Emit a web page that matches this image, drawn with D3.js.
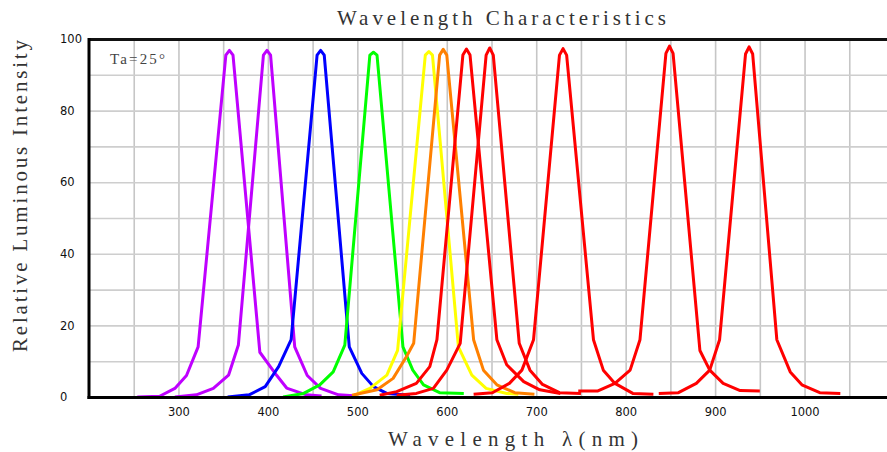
<!DOCTYPE html>
<html>
<head>
<meta charset="utf-8">
<script src="https://cdn.jsdelivr.net/npm/d3@7"></script>
<style>
  body { margin: 0; background: #fff; }
  svg { display: block; }
</style>
</head>
<body>
<svg id="chart" width="887" height="452"></svg>
<script>
// Axis ticks and grid positions
const xTickValues = [300, 400, 500, 600, 700, 800, 900, 1000];
const xGridValues = [250, 300, 350, 400, 450, 500, 550, 600, 650, 700, 750, 800, 850, 900, 950, 1000, 1050, 1100];
const yTickValues = [0, 20, 40, 60, 80, 100];
const yGridValues = [10, 20, 30, 40, 50, 60, 70, 80, 90];

// Spectral curves: [wavelength (nm), relative intensity (%)]
const uv357 = [[254,0],[279,0.2],[296,2.4],[309,6],[322,14],[353,95.5],[357,96.8],[361,95.5],[391,12.5],[410,6],[421,2.5],[443,0.6],[460,0.3]];
const uv399 = [[296,0],[320,0.6],[339,2.4],[356,6.1],[367,14.5],[395,95.5],[399,96.8],[403,95.5],[430,14],[444,6],[459,2.4],[479,0.6],[500,0.3]];
const blue459 = [[355,0],[379,0.6],[397,2.9],[412,8.5],[426,16],[455,95.5],[459,96.8],[463,95.5],[491,14],[505,6.6],[518,2.9],[533,1],[559,0.5]];
const green518 = [[417,0],[440,1],[458,3.4],[473,7],[486,14.5],[514,95.5],[518,96.3],[522,95.5],[551,14],[562,7.5],[574,3.4],[592,1.2],[619,1]];
const yellow580 = [[497,0.5],[514,2.4],[533,6.1],[545,13],[576,95.5],[580,96.5],[584,95.5],[613,14],[628,6.1],[644,2.4],[667,1],[680,0.8]];
const orange596 = [[494,0.5],[522,2],[540,5.2],[555,11.3],[563,15],[592,95.5],[596,97.1],[600,95.5],[630,16],[641,7.5],[656,3.4],[676,1.2],[698,0.8]];
const red622 = [[525,0.5],[544,1.5],[566,3.8],[581,8.5],[589,16],[618,95.5],[622,97.2],[626,95.5],[656,16],[667,9],[686,4.3],[704,2],[727,1]];
const red648 = [[544,0.5],[566,1],[585,2.4],[600,7.5],[615,15],[644,95.5],[648,97.5],[652,95.5],[681,15],[693,7.5],[707,3.5],[726,1.2],[750,1]];
const ir730 = [[630,0.8],[651,1.2],[670,3.8],[684,7.5],[697,16],[726,95.5],[730,97.3],[734,95.5],[764,16],[775,7.5],[788,3.8],[808,1],[831,0.8]];
const ir849 = [[747,1.7],[769,1.7],[788,3.8],[805,7.5],[816,16],[845,96],[849,98],[853,96],[883,13],[894,7.5],[909,3.8],[928,1.8],[950,1.7]];
const ir938 = [[837,1],[859,1.2],[879,3.8],[894,7.5],[905,16],[934,95.8],[938,97.8],[942,95.8],[969,16],[984,7],[997,3.4],[1017,1.2],[1040,1]];

const seriesData = [uv357, uv399, blue459, green518, yellow580, orange596, red622, red648, ir730, ir849, ir938];
const seriesColors = ["#bf00ff", "#bf00ff", "#0000ff", "#00ff00", "#ffff00", "#ff8000",
                      "#ff0000", "#ff0000", "#ff0000", "#ff0000", "#ff0000"];

const svg = d3.select("#chart");
const plotLeft = 89, plotTop = 39, plotBottom = 397, plotRight = 894;

const x = d3.scaleLinear().domain([200, 1100]).range([plotLeft, plotRight]);
const y = d3.scaleLinear().domain([0, 100]).range([plotBottom, plotTop]);

// Grid
svg.append("g")
  .attr("transform", `translate(0,${plotBottom})`)
  .call(d3.axisBottom(x).tickValues(xGridValues).tickSize(-(plotBottom - plotTop)).tickFormat(""))
  .call(g => g.select(".domain").remove())
  .call(g => g.selectAll("line").attr("stroke", "#c6c6c6").attr("stroke-width", 1.6));

svg.append("g")
  .attr("transform", `translate(${plotLeft},0)`)
  .call(d3.axisLeft(y).tickValues(yGridValues).tickSize(-(plotRight - plotLeft)).tickFormat(""))
  .call(g => g.select(".domain").remove())
  .call(g => g.selectAll("line").attr("stroke", "#cecece").attr("stroke-width", 1.6));

// Curves
const line = d3.line().x(d => x(d[0])).y(d => y(d[1]));
svg.append("g")
  .selectAll("path")
  .data(seriesData)
  .join("path")
  .attr("d", line)
  .attr("fill", "none")
  .attr("stroke", (d, i) => seriesColors[i])
  .attr("stroke-width", 3)
  .attr("stroke-linejoin", "round");

// Frame
svg.append("line").attr("x1", plotLeft).attr("x2", 887).attr("y1", plotTop + 0.5).attr("y2", plotTop + 0.5)
  .attr("stroke", "#111").attr("stroke-width", 3);
svg.append("line").attr("x1", plotLeft - 1.5).attr("x2", 887).attr("y1", plotBottom + 0.5).attr("y2", plotBottom + 0.5)
  .attr("stroke", "#000").attr("stroke-width", 3);
svg.append("line").attr("x1", plotLeft).attr("x2", plotLeft).attr("y1", plotTop - 1).attr("y2", plotBottom + 2)
  .attr("stroke", "#000").attr("stroke-width", 3);

// Tick labels
const xAxis = svg.append("g")
  .attr("transform", `translate(0,${plotBottom})`)
  .call(d3.axisBottom(x).tickValues(xTickValues).tickSize(0).tickPadding(11).tickFormat(d3.format("d")))
  .call(g => g.select(".domain").remove());
xAxis.selectAll("text")
  .attr("font-family", "DejaVu Sans, sans-serif").attr("font-size", 11.5).attr("fill", "#111");

const yAxis = svg.append("g")
  .attr("transform", `translate(${plotLeft},0)`)
  .call(d3.axisLeft(y).tickValues(yTickValues).tickSize(0).tickFormat(d3.format("d")))
  .call(g => g.select(".domain").remove());
yAxis.selectAll("text")
  .attr("x", -29).attr("text-anchor", "start")
  .attr("font-family", "DejaVu Sans, sans-serif").attr("font-size", 11.5).attr("fill", "#111");

// Titles
svg.append("text")
  .attr("x", 337).attr("y", 25)
  .attr("textLength", 329).attr("lengthAdjust", "spacing")
  .attr("font-family", "Liberation Serif, serif").attr("font-size", 21).attr("fill", "#333")
  .text("Wavelength Characteristics");

svg.append("text")
  .attr("x", 388).attr("y", 446)
  .attr("textLength", 250).attr("lengthAdjust", "spacing")
  .attr("font-family", "Liberation Serif, serif").attr("font-size", 21).attr("fill", "#333")
  .text("Wavelength λ(nm)");

svg.append("text")
  .attr("transform", "translate(27,352) rotate(-90)")
  .attr("textLength", 312).attr("lengthAdjust", "spacing")
  .attr("font-family", "Liberation Serif, serif").attr("font-size", 21).attr("fill", "#333")
  .text("Relative Luminous Intensity");

svg.append("text")
  .attr("x", 110).attr("y", 64)
  .attr("textLength", 55).attr("lengthAdjust", "spacing")
  .attr("font-family", "Liberation Serif, serif").attr("font-size", 15).attr("fill", "#444")
  .text("Ta=25°");
</script>
</body>
</html>
